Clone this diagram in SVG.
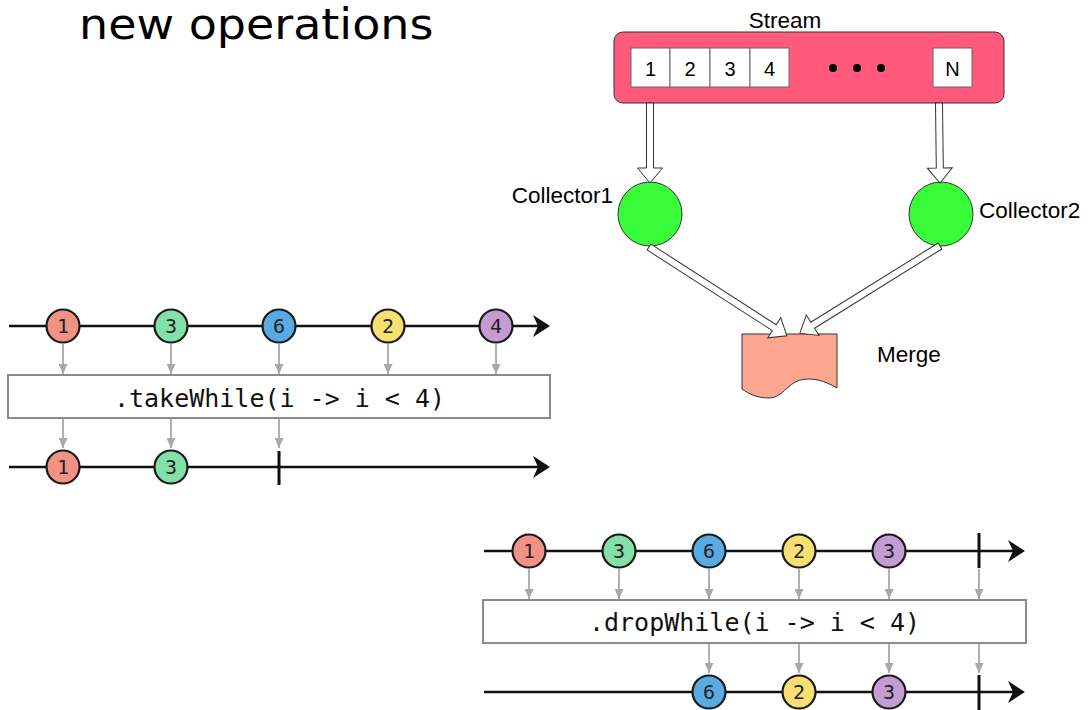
<svg xmlns="http://www.w3.org/2000/svg" width="1090" height="710" viewBox="0 0 1090 710">
  <style>
    .title { font-family: "DejaVu Sans", Verdana, sans-serif; font-size: 42px; fill: #000; }
    .lbl { font-family: "Liberation Sans", Arial, sans-serif; font-size: 22.5px; fill: #000; }
    .cellt { font-family: "Liberation Sans", Arial, sans-serif; font-size: 20px; fill: #000; text-anchor: middle; }
    .cell { fill: #fff; stroke: #666; stroke-width: 1; }
    .block { fill: #fff; stroke: #333; stroke-width: 1; }
    .tl { stroke: #111; stroke-width: 2.5; fill: none; }
    .tip { fill: #111; }
    .term { stroke: #111; stroke-width: 3; }
    .flow { stroke: #b0b0b0; stroke-width: 2; fill: none; }
    .op { fill: #fff; stroke: #8a8a8a; stroke-width: 2; }
    .opt { font-family: "DejaVu Sans Mono", "Liberation Mono", monospace; font-size: 25px; fill: #111; text-anchor: middle; }
    .mb { stroke: #1a1a1a; stroke-width: 2.2; }
    .mt { font-family: "DejaVu Sans Mono", "Liberation Mono", monospace; font-size: 20px; fill: #222; text-anchor: middle; }
    .red { fill: #f29286; }
    .green { fill: #83e0a8; }
    .blue { fill: #58a9e4; }
    .yellow { fill: #f8df72; }
    .purple { fill: #c49bd3; }
  </style>
  <defs>
    <marker id="grayTip" markerWidth="11" markerHeight="9" refX="10" refY="4.5" orient="auto" markerUnits="userSpaceOnUse">
      <path d="M0,0 L10,4.5 L0,9 Z" fill="#a8a8a8"/>
    </marker>
    <polygon id="lineHead" points="0,0 -17,-11 -12,0 -17,11"/>
  </defs>

  <rect width="1090" height="710" fill="#fff"/>

  <text class="title" transform="translate(79,39) scale(1.095,1)" x="0" y="0">new operations</text>

  <!-- stream pipeline -->
  <g id="stream">
    <text class="lbl" x="785" y="28" text-anchor="middle">Stream</text>
    <rect x="614" y="32" width="390" height="71" rx="9" fill="#ff5a7c" stroke="#333" stroke-width="1"/>
    <rect class="cell" x="631" y="48" width="39" height="39"/>
    <rect class="cell" x="670" y="48" width="40" height="39"/>
    <rect class="cell" x="710" y="48" width="40" height="39"/>
    <rect class="cell" x="750" y="48" width="39" height="39"/>
    <text class="cellt" x="650.5" y="76">1</text>
    <text class="cellt" x="690" y="76">2</text>
    <text class="cellt" x="730" y="76">3</text>
    <text class="cellt" x="769.5" y="76">4</text>
    <circle cx="833" cy="68" r="4" fill="#000"/>
    <circle cx="857" cy="68" r="4" fill="#000"/>
    <circle cx="881" cy="68" r="4" fill="#000"/>
    <rect class="cell" x="933" y="48" width="39" height="39"/>
    <text class="cellt" x="952.5" y="76">N</text>
  </g>

  <g id="collector1">
    <circle cx="650" cy="214" r="32" fill="#38fc38" stroke="#333" stroke-width="1"/>
    <text class="lbl" x="613" y="203" text-anchor="end">Collector1</text>
  </g>

  <g id="collector2">
    <circle cx="941" cy="214" r="32" fill="#38fc38" stroke="#333" stroke-width="1"/>
    <text class="lbl" x="979" y="218">Collector2</text>
  </g>

  <g id="merge">
    <path d="M742,334 H837 V388 C825,381 813,377 800,380 C787,384 782,398 769,398 C757,398 749,394 742,389 Z" fill="#fca58f" stroke="#333" stroke-width="1"/>
    <text class="lbl" x="877" y="362">Merge</text>
  </g>

  <g id="pipeline-connectors">
    <polygon class="block" transform="translate(650,103) rotate(90)" points="0,-3.5 65,-3.5 65,-12.5 80,0 65,12.5 65,3.5 0,3.5"/>
    <polygon class="block" transform="translate(939,103) rotate(89.3)" points="0,-3.5 65,-3.5 65,-12.5 80,0 65,12.5 65,3.5 0,3.5"/>
    <polygon class="block" transform="translate(649,247) rotate(32.8)" points="0,-3.5 149,-3.5 149,-12 164,0 149,12 149,3.5 0,3.5"/>
    <polygon class="block" transform="translate(940,246) rotate(148.1)" points="0,-3.5 150,-3.5 150,-12 165,0 150,12 150,3.5 0,3.5"/>
  </g>

  <!-- takeWhile marble diagram -->
  <g id="takewhile-connectors">
    <line class="tl" x1="9" y1="326" x2="540" y2="326"/>
    <use href="#lineHead" class="tip" x="550" y="326"/>
    <line class="tl" x1="9" y1="467" x2="540" y2="467"/>
    <use href="#lineHead" class="tip" x="550" y="467"/>
    <line class="flow" x1="63" y1="344" x2="63" y2="374" marker-end="url(#grayTip)"/>
    <line class="flow" x1="171" y1="344" x2="171" y2="374" marker-end="url(#grayTip)"/>
    <line class="flow" x1="279" y1="344" x2="279" y2="374" marker-end="url(#grayTip)"/>
    <line class="flow" x1="388" y1="344" x2="388" y2="374" marker-end="url(#grayTip)"/>
    <line class="flow" x1="496" y1="344" x2="496" y2="374" marker-end="url(#grayTip)"/>
    <line class="flow" x1="63" y1="419" x2="63" y2="448" marker-end="url(#grayTip)"/>
    <line class="flow" x1="171" y1="419" x2="171" y2="448" marker-end="url(#grayTip)"/>
    <line class="flow" x1="279" y1="419" x2="279" y2="448" marker-end="url(#grayTip)"/>
  </g>
  <g id="takewhile-op">
    <rect class="op" x="8" y="375" width="542" height="43"/>
    <text class="opt" x="279.5" y="407">.takeWhile(i -&gt; i &lt; 4)</text>
  </g>
  <g id="tw-in-1"><circle class="mb red" cx="63" cy="326" r="16.5"/><text class="mt" x="63" y="333">1</text></g>
  <g id="tw-in-3"><circle class="mb green" cx="171" cy="326" r="16.5"/><text class="mt" x="171" y="333">3</text></g>
  <g id="tw-in-6"><circle class="mb blue" cx="279" cy="326" r="16.5"/><text class="mt" x="279" y="333">6</text></g>
  <g id="tw-in-2"><circle class="mb yellow" cx="388" cy="326" r="16.5"/><text class="mt" x="388" y="333">2</text></g>
  <g id="tw-in-4"><circle class="mb purple" cx="496" cy="326" r="16.5"/><text class="mt" x="496" y="333">4</text></g>
  <g id="tw-out-1"><circle class="mb red" cx="63" cy="467" r="16.5"/><text class="mt" x="63" y="474">1</text></g>
  <g id="tw-out-3"><circle class="mb green" cx="171" cy="467" r="16.5"/><text class="mt" x="171" y="474">3</text></g>
  <g id="tw-end"><line class="term" x1="279" y1="451" x2="279" y2="485"/></g>

  <!-- dropWhile marble diagram -->
  <g id="dropwhile-connectors">
    <line class="tl" x1="484" y1="551" x2="1015" y2="551"/>
    <use href="#lineHead" class="tip" x="1025" y="551"/>
    <line class="tl" x1="484" y1="692" x2="1015" y2="692"/>
    <use href="#lineHead" class="tip" x="1025" y="692"/>
    <line class="flow" x1="529" y1="569" x2="529" y2="599" marker-end="url(#grayTip)"/>
    <line class="flow" x1="619" y1="569" x2="619" y2="599" marker-end="url(#grayTip)"/>
    <line class="flow" x1="709" y1="569" x2="709" y2="599" marker-end="url(#grayTip)"/>
    <line class="flow" x1="799" y1="569" x2="799" y2="599" marker-end="url(#grayTip)"/>
    <line class="flow" x1="889" y1="569" x2="889" y2="599" marker-end="url(#grayTip)"/>
    <line class="flow" x1="979" y1="569" x2="979" y2="599" marker-end="url(#grayTip)"/>
    <line class="flow" x1="709" y1="644" x2="709" y2="673" marker-end="url(#grayTip)"/>
    <line class="flow" x1="799" y1="644" x2="799" y2="673" marker-end="url(#grayTip)"/>
    <line class="flow" x1="889" y1="644" x2="889" y2="673" marker-end="url(#grayTip)"/>
    <line class="flow" x1="979" y1="644" x2="979" y2="673" marker-end="url(#grayTip)"/>
  </g>
  <g id="dropwhile-op">
    <rect class="op" x="483" y="600" width="543" height="43"/>
    <text class="opt" x="754.5" y="631">.dropWhile(i -&gt; i &lt; 4)</text>
  </g>
  <g id="dw-in-1"><circle class="mb red" cx="529" cy="551" r="16.5"/><text class="mt" x="529" y="558">1</text></g>
  <g id="dw-in-3"><circle class="mb green" cx="619" cy="551" r="16.5"/><text class="mt" x="619" y="558">3</text></g>
  <g id="dw-in-6"><circle class="mb blue" cx="709" cy="551" r="16.5"/><text class="mt" x="709" y="558">6</text></g>
  <g id="dw-in-2"><circle class="mb yellow" cx="799" cy="551" r="16.5"/><text class="mt" x="799" y="558">2</text></g>
  <g id="dw-in-3b"><circle class="mb purple" cx="889" cy="551" r="16.5"/><text class="mt" x="889" y="558">3</text></g>
  <g id="dw-in-end"><line class="term" x1="979" y1="533" x2="979" y2="568"/></g>
  <g id="dw-out-6"><circle class="mb blue" cx="709" cy="692" r="16.5"/><text class="mt" x="709" y="699">6</text></g>
  <g id="dw-out-2"><circle class="mb yellow" cx="799" cy="692" r="16.5"/><text class="mt" x="799" y="699">2</text></g>
  <g id="dw-out-3"><circle class="mb purple" cx="889" cy="692" r="16.5"/><text class="mt" x="889" y="699">3</text></g>
  <g id="dw-out-end"><line class="term" x1="979" y1="675" x2="979" y2="710"/></g>
</svg>
